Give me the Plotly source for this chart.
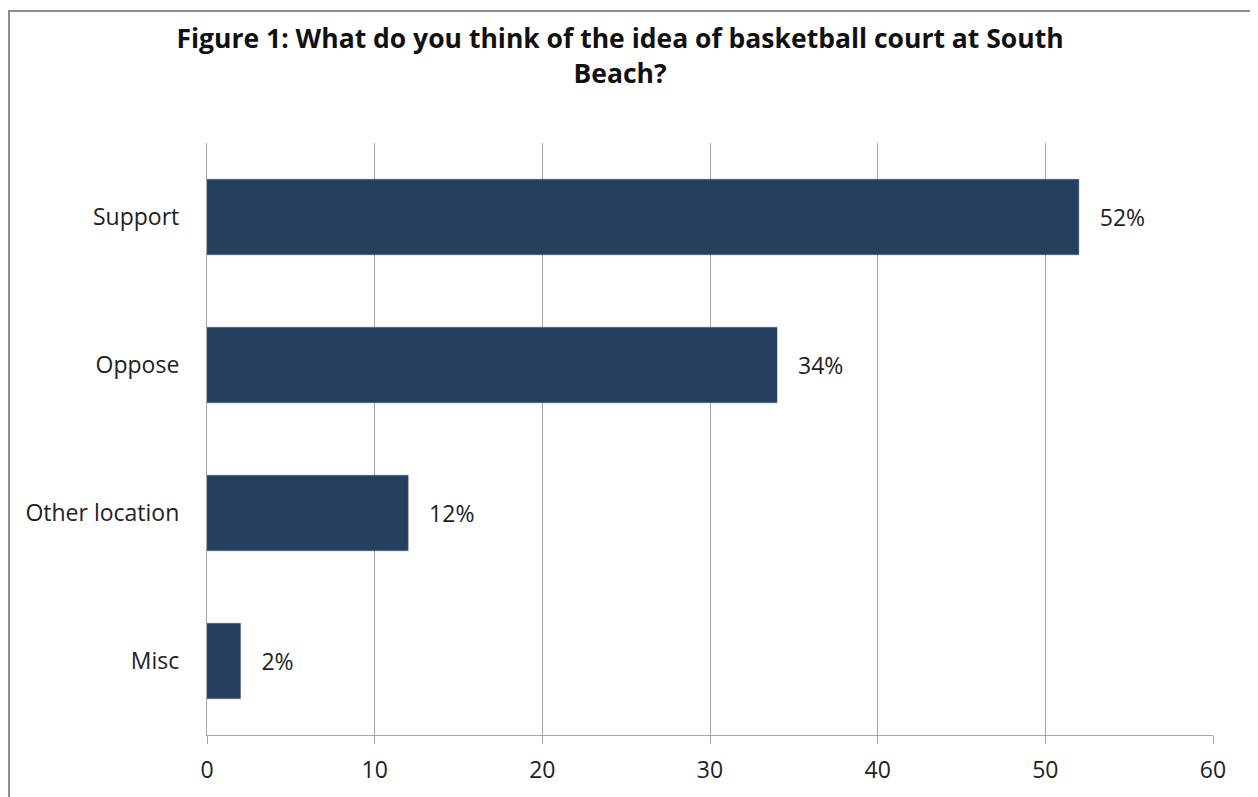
import plotly.graph_objects as go

categories = ["Support", "Oppose", "Other location", "Misc"]
values = [52, 34, 12, 2]
labels = ["52%", "34%", "12%", "2%"]
x_ticks = [0, 10, 20, 30, 40, 50, 60]

title_text = "Figure 1: What do you think of the idea of basketball court at South<br>Beach?"

FONT = "Open Sans"
GRID = "#A6A6A6"

W, H = 1250, 789
L, R, T, B = 199, 45, 135, 62
plot_w = W - L - R
plot_h = H - T - B

fig = go.Figure(
    go.Bar(
        x=values,
        y=categories,
        orientation="h",
        marker=dict(color="#253F5F", line=dict(color="#4A6285", width=0.5)),
        width=0.51,
        text=labels,
        textposition="outside",
        texttemplate="   %{text}",
        textfont=dict(family=FONT, size=23, color="#222222"),
        cliponaxis=False,
        hoverinfo="skip",
    )
)

fig.update_layout(
    width=W,
    height=H,
    margin=dict(l=L, r=R, t=T, b=B),
    paper_bgcolor="white",
    plot_bgcolor="white",
    showlegend=False,
    title=dict(
        text="<b>" + title_text + "</b>",
        x=0.4896,
        xanchor="center",
        y=0.949,
        yanchor="top",
        font=dict(family=FONT, size=26.5, color="#111111"),
    ),
    font=dict(family=FONT, size=23, color="#222222"),
    shapes=[
        dict(
            type="rect",
            xref="paper",
            yref="paper",
            x0=(1 - L) / plot_w,
            x1=(1246 - L) / plot_w,
            y0=-0.25,
            y1=(plot_h + T - 3) / plot_h,
            line=dict(color="#8C8C8C", width=2),
            fillcolor="rgba(0,0,0,0)",
            layer="below",
        )
    ],
)

fig.update_xaxes(
    range=[0, 60],
    tickvals=x_ticks,
    ticktext=[str(t) for t in x_ticks],
    showgrid=True,
    gridcolor=GRID,
    gridwidth=1.2,
    showline=True,
    linecolor=GRID,
    linewidth=1.2,
    ticks="outside",
    ticklen=8,
    tickcolor=GRID,
    tickwidth=1.2,
    ticklabelstandoff=6,
    zeroline=False,
    tickfont=dict(family=FONT, size=23, color="#222222"),
    fixedrange=True,
)

fig.update_yaxes(
    categoryorder="array",
    categoryarray=categories[::-1],
    showgrid=False,
    showline=True,
    linecolor=GRID,
    linewidth=1.2,
    ticks="",
    ticklabelstandoff=22,
    tickfont=dict(family=FONT, size=23, color="#222222"),
    fixedrange=True,
)

fig.write_html("out.html")
